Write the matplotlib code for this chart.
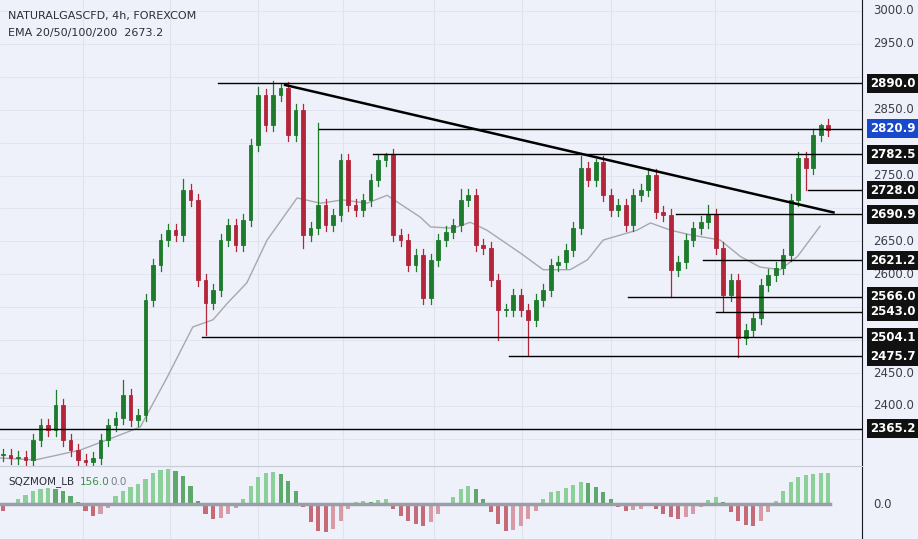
import numpy as np
import matplotlib.pyplot as plt
from matplotlib.patches import Rectangle

# ---------------- data ----------------
CLOSES = [2326, 2321, 2323, 2318, 2348, 2371, 2364, 2402, 2348, 2333,
          2318, 2315, 2321, 2348, 2371, 2382, 2417, 2379, 2386, 2561,
          2614, 2652, 2667, 2660, 2728, 2713, 2591, 2557, 2576, 2652,
          2675, 2645, 2683, 2796, 2872, 2827, 2872, 2883, 2812, 2850,
          2660, 2670, 2705, 2675, 2690, 2774, 2705, 2698, 2713, 2743,
          2774, 2781, 2660, 2652, 2614, 2629, 2564, 2622, 2652, 2664,
          2675, 2713, 2721, 2645, 2640, 2591, 2546, 2546, 2569, 2546,
          2531, 2561, 2576, 2614, 2619, 2637, 2670, 2762, 2743, 2771,
          2721, 2698, 2705, 2675, 2721, 2728, 2751, 2695, 2690, 2607,
          2619, 2652, 2670, 2680, 2690, 2640, 2569, 2591, 2503, 2515,
          2534, 2584, 2599, 2610, 2629, 2713, 2777, 2762, 2812, 2827, 2819]
HIGH_EXTREMES = {7: 2425, 16: 2440, 24: 2745, 34: 2885, 36: 2893, 37: 2890,
                 42: 2830, 51: 2785, 61: 2730, 77: 2780, 79: 2775, 86: 2762,
                 94: 2705, 109: 2828}
LOW_EXTREMES = {11: 2305, 27: 2508, 40: 2640, 66: 2500, 70: 2476, 89: 2566,
                98: 2474, 96: 2545, 107: 2728}

EMA_X = [-0.4, 4.3, 10.3, 15.6, 18.3, 21.9, 25.3, 28, 29.9, 32.5, 35.2, 39.2,
         42.3, 45.3, 48.5, 51.2, 55.6, 57, 60, 62.3, 64.5, 69, 72, 75.6, 77.9,
         80, 84.5, 86.3, 89, 91.6, 95.6, 98.3, 100.9, 103.6, 105.9, 108.9]
EMA_Y = [2321, 2318, 2333, 2356, 2368, 2444, 2520, 2531, 2556, 2587, 2652, 2716,
         2708, 2713, 2708, 2720, 2687, 2672, 2670, 2679, 2667, 2632, 2607, 2607,
         2622, 2652, 2667, 2678, 2667, 2660, 2652, 2627, 2611, 2607, 2627, 2673]

LEVELS = [2890.0, 2820.9, 2782.5, 2728.0, 2690.9, 2621.2, 2566.0, 2543.0,
          2504.1, 2475.7, 2365.2]
LEVEL_START = [28.7, 42.1, 49.3, 107.3, 89.7, 93.3, 83.3, 95.0, 26.5, 67.5, -0.4]
TREND_X = [37.6, 110.7]
TREND_Y = [2887.6, 2694.0]
PRICE_TICKS = [3000, 2950, 2850, 2750, 2650, 2600, 2450, 2400]

MOM = [-20, -5, 15, 28, 38, 45, 48, 46, 40, 25, 5, -20, -35, -30, -12, 25, 38, 50,
       60, 75, 92, 102, 105, 98, 85, 55, 10, -30, -45, -42, -30, -12, 15, 55, 80,
       92, 95, 90, 70, 40, -10, -55, -80, -85, -75, -50, -15, 5, 8, 6, 12, 15,
       -15, -35, -50, -60, -65, -55, -30, -5, 20, 45, 55, 45, 15, -25, -60, -80,
       -78, -65, -45, -20, 15, 35, 40, 48, 58, 65, 62, 50, 35, 15, -10, -20, -18,
       -15, -5, -15, -30, -40, -45, -40, -30, -10, 12, 20, 5, -25, -50, -62, -65,
       -50, -25, 10, 40, 65, 80, 88, 90, 92, 92]

BG = "#eef1f9"
GRID = "#dfe3ee"
UP = "#1e7b2c"
DOWN = "#b3263a"

fig = plt.figure(figsize=(9.18, 5.39), dpi=100, facecolor=BG)
W, H = 918, 539
ax = fig.add_axes([0, (H - 466) / H, 862 / W, 466 / H], facecolor=BG)
axm = fig.add_axes([0, 0, 862 / W, (H - 466) / H], facecolor=BG)

XL = (-0.4, 114.5)
for a in (ax, axm):
    a.set_xlim(*XL)
    for gx in [10.7, 22.3, 34.0, 45.3, 57.5, 69.2, 81.0, 94.9]:
        a.axvline(gx, color=GRID, lw=0.8, zorder=0)
    a.tick_params(left=False, bottom=False, labelleft=False, labelbottom=False)
    for s in ["top", "left", "bottom"]:
        a.spines[s].set_visible(False)
    a.spines["right"].set_color("#131722")

ax.set_ylim(2308.8, 3016.7)
for p in PRICE_TICKS + [2900, 2800, 2700, 2550, 2500, 2350]:
    ax.axhline(p, color=GRID, lw=0.6, zorder=0)

# candles
opens = [CLOSES[0]] + CLOSES[:-1]
for i, (o, c) in enumerate(zip(opens, CLOSES)):
    col = UP if c >= o else DOWN
    hi = HIGH_EXTREMES.get(i, max(o, c) + 9)
    lo = LOW_EXTREMES.get(i, min(o, c) - 9)
    ax.plot([i, i], [lo, hi], color=col, lw=0.9, zorder=3)
    ax.add_patch(Rectangle((i - 0.25, min(o, c)), 0.5, max(abs(c - o), 1.5),
                           facecolor=col, edgecolor=col, lw=0.6, zorder=4))

ax.plot(EMA_X, EMA_Y, color="#a6a8ae", lw=1.0, zorder=2)

for lvl, xs in zip(LEVELS, LEVEL_START):
    ax.plot([xs, XL[1]], [lvl, lvl], color="black", lw=1.0, zorder=5)
ax.plot(TREND_X, TREND_Y, color="black", lw=1.8, zorder=5)

# right price scale
for p in PRICE_TICKS:
    fig.text(873 / W, ax.transData.transform((0, p))[1] / H, f"{p:.1f}",
             ha="left", va="center", fontsize=8.5, color="#3a3e4a")
for lvl in LEVELS:
    yf = ax.transData.transform((0, lvl))[1] / H
    fc = "#1848cc" if lvl == 2820.9 else "#111111"
    fig.text(870 / W, yf, f"{lvl:.1f}", ha="left", va="center", fontsize=8.5,
             color="white", fontweight="bold",
             bbox=dict(boxstyle="square,pad=0.25", fc=fc, ec="none"))

fig.text(8 / W, 1 - 16 / H, "NATURALGASCFD, 4h, FOREXCOM", fontsize=8,
         color="#2a2e39", va="center")
fig.text(8 / W, 1 - 33 / H, "EMA 20/50/100/200  2673.2", fontsize=8,
         color="#2a2e39", va="center")

# momentum histogram
axm.set_ylim(-105, 114)
axm.spines["top"].set_visible(True)
axm.spines["top"].set_color("#c8ccd6")
mom = np.array(MOM)
prev = np.concatenate([[mom[0]], mom[:-1]])
cols = []
for v, pv in zip(mom, prev):
    if v >= 0:
        cols.append("#8ccf98" if v >= pv else "#5fa86c")
    else:
        cols.append("#c56b78" if v <= pv else "#d89aa4")
axm.bar(np.arange(len(mom)), mom, width=0.55, color=cols, zorder=2)
axm.axhline(0, color="#9a9ea8", lw=2.5, xmax=(110.3 - XL[0]) / (XL[1] - XL[0]), zorder=3)
fig.text(8 / W, 1 - 482 / H, "SQZMOM_LB", fontsize=7.5, color="#2a2e39", va="center")
fig.text(80 / W, 1 - 482 / H, "156.0", fontsize=7.5, color="#3d8f4a", va="center")
fig.text(110 / W, 1 - 482 / H, "0.0", fontsize=7.5, color="#7a7e88", va="center")
fig.text(873 / W, 1 - 505 / H, "0.0", fontsize=8.5, color="#3a3e4a", va="center")

fig.savefig("out.png", dpi=100, facecolor=BG)
